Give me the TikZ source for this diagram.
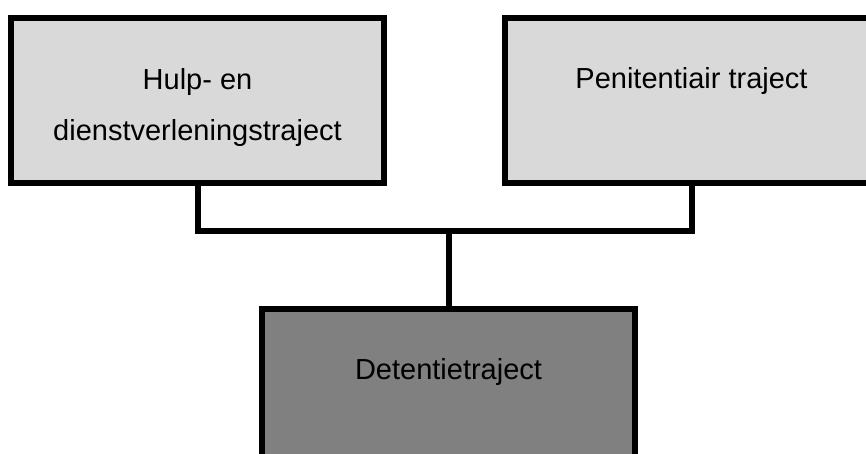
\documentclass[tikz,border=0pt]{standalone}
\usepackage{fontspec}
\setmainfont{Liberation Sans}
\usepackage{tikz}
\usepackage{xcolor}
\usetikzlibrary{positioning}
\definecolor{lightbox}{HTML}{D9D9D9}
\definecolor{darkbox}{HTML}{808080}
\tikzset{
    trajbox/.style={rectangle,draw=black,line width=6pt,minimum width=373pt,minimum height=165pt,inner sep=0pt},
    trajtext/.style={anchor=base,align=center,font=\fontsize{29}{51}\selectfont,inner sep=0pt},
    link/.style={draw=black,line width=6pt,line join=miter}
}

\begin{document}
\begin{tikzpicture}[x=1pt,y=-1pt]
    \useasboundingbox (0,0) rectangle (866,454);

    \node [trajbox,fill=lightbox] (hulp) at (197.5,100.5) {};
    \node [trajbox,fill=lightbox] (peni) at (691.5,100.5) {};
    \node [trajbox,fill=darkbox] (det) at (448.5,391.5) {};

    % base anchor sits on the last line
    \node [trajtext] (hulptxt) at (197.5,141) {Hulp- en\\dienstverleningstraject};
    \node [trajtext] (penitxt) at (691.5,89) {Penitentiair traject};
    \node [trajtext] (dettxt) at (448.5,379) {Detentietraject};

    \coordinate (split) at (448.5,231);
    \path [link] (hulp.south) |- (split) -| (peni.south);
    \path [link] (det.north) -- (split);
\end{tikzpicture}
\end{document}
